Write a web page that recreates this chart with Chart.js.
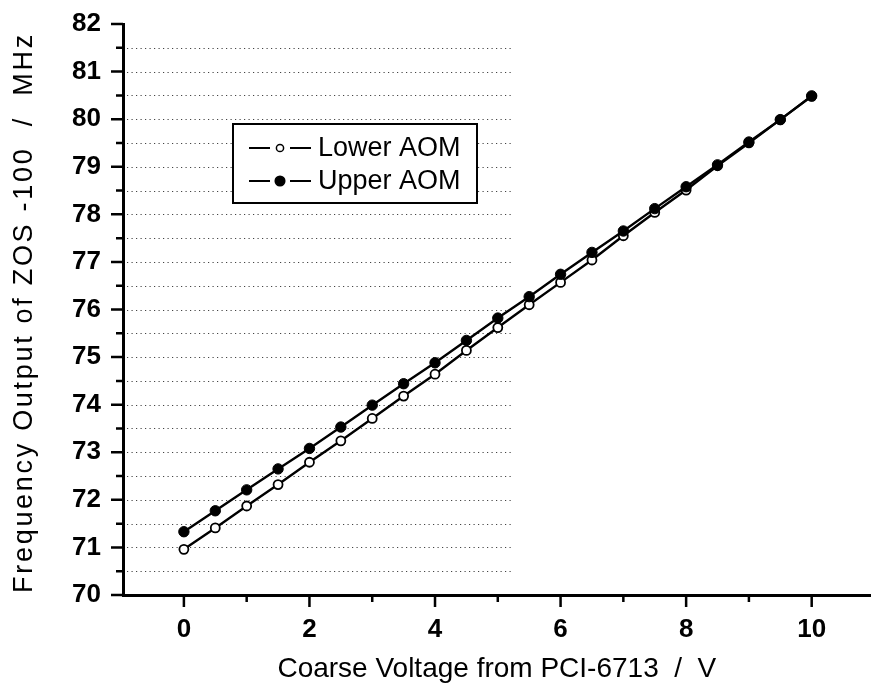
<!DOCTYPE html>
<html>
<head>
<meta charset="utf-8">
<script src="https://cdn.jsdelivr.net/npm/chart.js@4"></script>
<style>
  html, body { margin: 0; padding: 0; background: #fff; }
  #wrap { width: 877px; height: 686px; }
</style>
</head>
<body>
<div id="wrap"><canvas id="chart" width="877" height="686"></canvas></div>
<script>
// Coarse voltage (V) -> ZOS-100 frequency (MHz)
const voltage = [0, 0.5, 1, 1.5, 2, 2.5, 3, 3.5, 4, 4.5, 5, 5.5, 6, 6.5, 7, 7.5, 8, 8.5, 9, 9.5, 10];
const lowerAom = [70.96, 71.41, 71.87, 72.32, 72.79, 73.24, 73.71, 74.18, 74.64, 75.14, 75.62,
                  76.10, 76.57, 77.04, 77.55, 78.04, 78.51, 79.02, 79.50, 79.99, 80.48];
const upperAom = [71.33, 71.77, 72.21, 72.65, 73.08, 73.53, 73.99, 74.44, 74.88, 75.35, 75.82,
                  76.27, 76.74, 77.20, 77.65, 78.12, 78.58, 79.04, 79.52, 79.99, 80.49];

const seriesNames = ['Lower AOM', 'Upper AOM'];
const xTitle = 'Coarse Voltage from PCI-6713  /  V';
const yTitle = 'Frequency Output of ZOS -100  /  MHz';

// tick values
const xMajorTicks = [0, 2, 4, 6, 8, 10];
const xMinorTicks = [1, 3, 5, 7, 9];
const yMajorTicks = [70, 71, 72, 73, 74, 75, 76, 77, 78, 79, 80, 81, 82];
const yMinorTicks = [70.5, 71.5, 72.5, 73.5, 74.5, 75.5, 76.5, 77.5, 78.5, 79.5, 80.5, 81.5];

const FONT = '"Liberation Sans", Arial, sans-serif';

// tick marks drawn by hand so minor ticks can be shorter than major ones
const tickMarks = {
  id: 'tickMarks',
  afterDraw(chart) {
    const { ctx, chartArea: a, scales: { x, y } } = chart;
    ctx.save();
    ctx.strokeStyle = '#000';
    ctx.lineWidth = 2.5;
    ctx.beginPath();
    xMajorTicks.forEach((v) => { const px = x.getPixelForValue(v); ctx.moveTo(px, a.bottom); ctx.lineTo(px, a.bottom + 12); });
    xMinorTicks.forEach((v) => { const px = x.getPixelForValue(v); ctx.moveTo(px, a.bottom); ctx.lineTo(px, a.bottom + 7); });
    yMajorTicks.forEach((v) => { const py = y.getPixelForValue(v); ctx.moveTo(a.left, py); ctx.lineTo(a.left - 12, py); });
    yMinorTicks.forEach((v) => { const py = y.getPixelForValue(v); ctx.moveTo(a.left, py); ctx.lineTo(a.left - 7, py); });
    ctx.stroke();
    ctx.restore();
  },
};

// dotted half-unit guide lines (only on the left part, like the scan)
const dottedGuides = {
  id: 'dottedGuides',
  beforeDatasetsDraw(chart) {
    const { ctx, chartArea: a, scales: { x, y } } = chart;
    const xEnd = x.getPixelForValue(5.25);
    ctx.save();
    ctx.strokeStyle = '#444';
    ctx.lineWidth = 1;
    ctx.setLineDash([1.2, 3.3]);
    ctx.beginPath();
    for (let v = 70.5; v < 82; v += 0.5) {
      const py = Math.round(y.getPixelForValue(v)) + 0.5;
      ctx.moveTo(a.left + 4, py);
      ctx.lineTo(xEnd, py);
    }
    ctx.stroke();
    ctx.restore();
  },
};

// y title drawn by hand: the scan has it spread out along the whole axis
const yAxisTitle = {
  id: 'yAxisTitle',
  afterDraw(chart) {
    const { ctx, chartArea: a } = chart;
    ctx.save();
    ctx.translate(25, (a.top + a.bottom) / 2 + 3);
    ctx.rotate(-Math.PI / 2);
    ctx.fillStyle = '#000';
    ctx.font = '27px ' + FONT;
    if ('letterSpacing' in ctx) ctx.letterSpacing = '2.7px';
    ctx.textAlign = 'center';
    ctx.textBaseline = 'middle';
    ctx.fillText(yTitle, 0, 0);
    ctx.restore();
  },
};

// boxed legend inside the plot, symbol = line-marker-line
const boxLegend = {
  id: 'boxLegend',
  afterDraw(chart) {
    const { ctx, chartArea: a } = chart;
    const left = a.left + 110, top = a.top + 100, w = 244, h = 79;
    ctx.save();
    ctx.fillStyle = '#fff';
    ctx.fillRect(left, top, w, h);
    ctx.strokeStyle = '#000';
    ctx.lineWidth = 2;
    ctx.strokeRect(left, top, w, h);
    [...chart.data.datasets].sort((p, q) => seriesNames.indexOf(p.label) - seriesNames.indexOf(q.label)).forEach((ds, i) => {
      const cy = top + 24 + i * 33;
      const sx = left + 16;
      ctx.strokeStyle = '#000';
      ctx.lineWidth = 2;
      ctx.beginPath();
      ctx.moveTo(sx, cy); ctx.lineTo(sx + 21, cy);
      ctx.moveTo(sx + 41, cy); ctx.lineTo(sx + 62, cy);
      ctx.stroke();
      ctx.beginPath();
      ctx.arc(sx + 31, cy, i === 0 ? 3.6 : 4.8, 0, Math.PI * 2);
      ctx.fillStyle = ds.pointBackgroundColor;
      ctx.fill();
      ctx.lineWidth = 1.5;
      ctx.stroke();
      ctx.fillStyle = '#000';
      ctx.font = '27px ' + FONT;
      ctx.textBaseline = 'middle';
      ctx.fillText(ds.label, sx + 69, cy + 1);
    });
    ctx.restore();
  },
};

new Chart(document.getElementById('chart'), {
  type: 'line',
  data: {
    datasets: [
      {
        label: seriesNames[0],
        data: voltage.map((v, i) => ({ x: v, y: lowerAom[i] })),
        order: 1,
        borderColor: '#000',
        borderWidth: 2.4,
        pointRadius: 4.5,
        pointBackgroundColor: '#fff',
        pointBorderColor: '#000',
        pointBorderWidth: 1.8,
        tension: 0,
      },
      {
        label: seriesNames[1],
        data: voltage.map((v, i) => ({ x: v, y: upperAom[i] })),
        order: 0,
        borderColor: '#000',
        borderWidth: 2.4,
        pointRadius: 5.2,
        pointBackgroundColor: '#000',
        pointBorderColor: '#000',
        pointBorderWidth: 1,
        tension: 0,
      },
    ],
  },
  options: {
    responsive: false,
    animation: false,
    layout: { padding: { top: 24, right: 0, bottom: 0, left: 0 } },
    plugins: { legend: { display: false }, tooltip: { enabled: false } },
    scales: {
      x: {
        type: 'linear',
        min: -0.97,
        max: 10.94,
        afterBuildTicks: (s) => { s.ticks = xMajorTicks.map((v) => ({ value: v })); },
        afterFit: (s) => { s.height = 91; s.paddingLeft = 0; s.paddingRight = 0; },
        grid: { display: false, drawTicks: false },
        border: { display: true, color: '#000', width: 3 },
        ticks: {
          padding: 19,
          color: '#000',
          font: { family: FONT, size: 26, weight: 'bold' },
        },
        title: {
          display: true,
          text: xTitle,
          color: '#000',
          font: { family: FONT, size: 28 },
          padding: { top: 0, bottom: 0 },
        },
      },
      y: {
        min: 70,
        max: 82,
        afterBuildTicks: (s) => { s.ticks = yMajorTicks.map((v) => ({ value: v })); },
        afterFit: (s) => { s.width = 123; s.paddingTop = 0; s.paddingBottom = 0; },
        grid: { display: false, drawTicks: false },
        border: { display: true, color: '#000', width: 3 },
        ticks: {
          padding: 22,
          color: '#000',
          font: { family: FONT, size: 26, weight: 'bold' },
        },
        title: { display: false },
      },
    },
  },
  plugins: [dottedGuides, tickMarks, yAxisTitle, boxLegend],
});
</script>
</body>
</html>
